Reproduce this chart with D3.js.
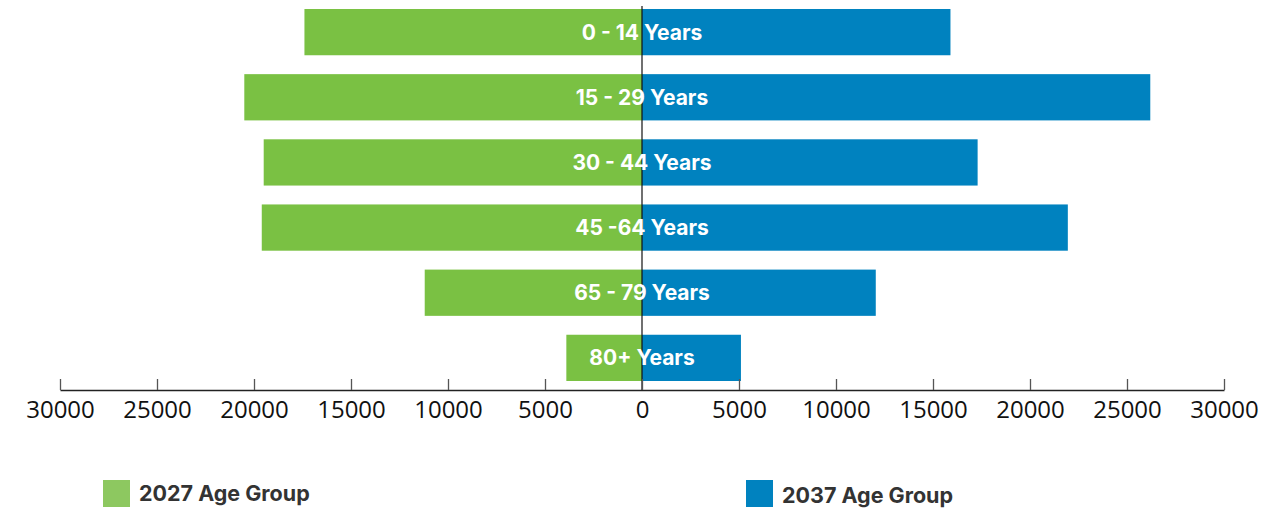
<!DOCTYPE html>
<html>
<head>
<meta charset="utf-8">
<script src="https://cdn.jsdelivr.net/npm/d3@7"></script>
<style>
  html, body { margin: 0; padding: 0; background: #fff; }
  svg { display: block; }
</style>
</head>
<body>
<svg id="chart" width="1288" height="510"></svg>
<script>
// Population by age group, two projection years
const ageGroups = ["0 - 14 Years", "15 - 29 Years", "30 - 44 Years", "45 -64 Years", "65 - 79 Years", "80+ Years"];
const values2027 = [17400, 20500, 19500, 19600, 11200, 3900];
const values2037 = [15900, 26200, 17300, 21950, 12050, 5100];
const tickValues = [-30000, -25000, -20000, -15000, -10000, -5000, 0, 5000, 10000, 15000, 20000, 25000, 30000];
const seriesNames = ["2027 Age Group", "2037 Age Group"];

const green = "#7AC143";
const greenLegend = "#8DC860";
const blue = "#0082BF";

const svg = d3.select("#chart");

const x = d3.scaleLinear().domain([-30000, 30000]).range([60, 1224]);
const y = d3.scaleBand().domain(ageGroups).range([9, 381]).paddingInner(0.29).paddingOuter(0);

const rows = ageGroups.map((g, i) => ({ group: g, left: values2027[i], right: values2037[i] }));

// Left side (2027) bars
svg.append("g").selectAll("rect")
  .data(rows).join("rect")
  .attr("x", d => x(-d.left))
  .attr("y", d => y(d.group))
  .attr("width", d => x(0) - x(-d.left))
  .attr("height", y.bandwidth())
  .attr("fill", green);

// Right side (2037) bars
svg.append("g").selectAll("rect")
  .data(rows).join("rect")
  .attr("x", x(0))
  .attr("y", d => y(d.group))
  .attr("width", d => x(d.right) - x(0))
  .attr("height", y.bandwidth())
  .attr("fill", blue);

// Center divider
svg.append("line")
  .attr("x1", x(0)).attr("x2", x(0))
  .attr("y1", 6).attr("y2", 390)
  .attr("stroke", "#111").attr("stroke-width", 1.2);

// Bottom axis
const axis = d3.axisBottom(x)
  .tickValues(tickValues)
  .tickFormat(d => String(Math.abs(d)))
  .tickSizeOuter(0)
  .tickSizeInner(0);

const axisG = svg.append("g")
  .attr("transform", "translate(0,390)")
  .call(axis);
axisG.select(".domain").attr("stroke", "#222").attr("stroke-width", 1.3);
axisG.selectAll(".tick line")
  .attr("y1", -11).attr("y2", 0)
  .attr("stroke", "#555").attr("stroke-width", 1.3);
axisG.selectAll(".tick text")
  .attr("y", 0).attr("dy", 28)
  .attr("fill", "#111")
  .style("font-family", "'Open Sans', sans-serif")
  .style("font-size", "24px");

// Group labels centred on the divider
svg.append("g").selectAll("text")
  .data(rows).join("text")
  .attr("x", x(0))
  .attr("y", d => y(d.group) + y.bandwidth() / 2)
  .attr("dy", "0.36em")
  .attr("text-anchor", "middle")
  .attr("fill", "#fff")
  .style("font-family", "Inter, sans-serif")
  .style("font-weight", "700")
  .style("font-size", "21px")
  .text(d => d.group);

// Legend
const legend = [
  { name: seriesNames[0], color: greenLegend, x: 103, ty: 501 },
  { name: seriesNames[1], color: blue, x: 746, ty: 503 }
];
const lg = svg.append("g").selectAll("g").data(legend).join("g");
lg.append("rect")
  .attr("x", d => d.x).attr("y", 480)
  .attr("width", 27).attr("height", 27)
  .attr("fill", d => d.color);
lg.append("text")
  .attr("x", d => d.x + 36).attr("y", d => d.ty)
  .attr("fill", "#333")
  .style("font-family", "Inter, sans-serif")
  .style("font-weight", "700")
  .style("font-size", "21.5px")
  .text(d => d.name);
</script>
</body>
</html>
